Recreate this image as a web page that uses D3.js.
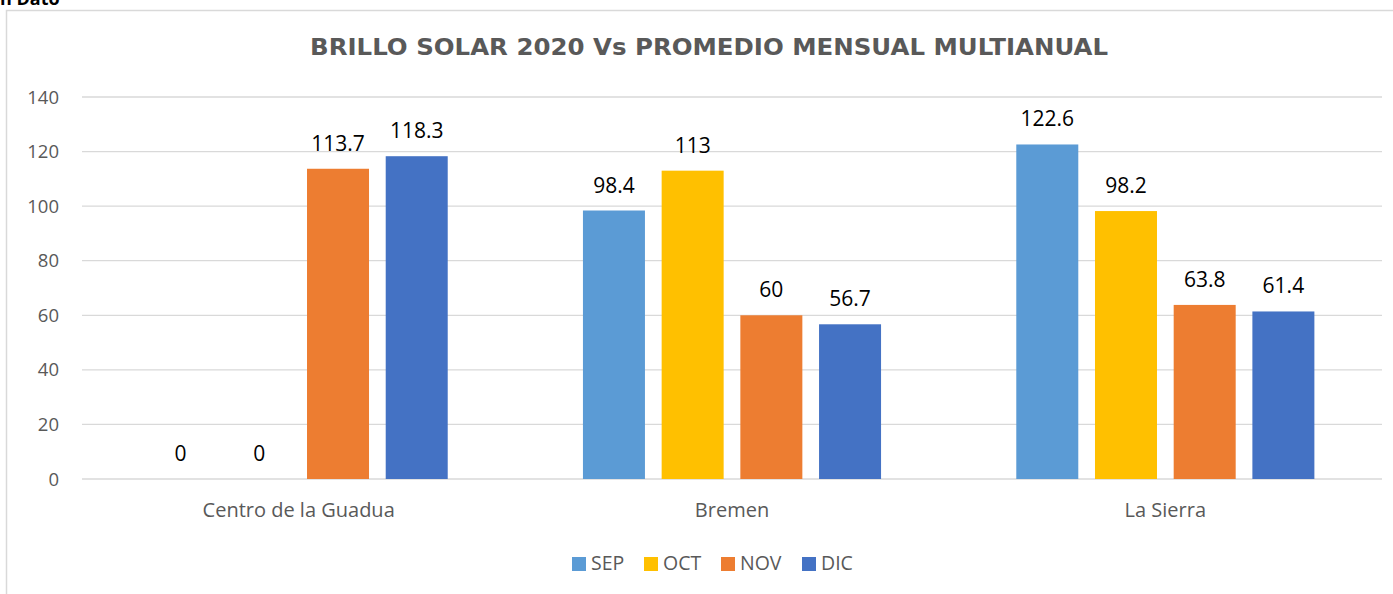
<!DOCTYPE html>
<html><head><meta charset="utf-8">
<script src="https://cdn.jsdelivr.net/npm/d3@7"></script>
<style>body{margin:0;background:#fff}svg{display:block}</style>
</head><body><svg id="c" width="1393" height="594"></svg>
<script>
const categories = ["Centro de la Guadua", "Bremen", "La Sierra"];
const seriesNames = ["SEP", "OCT", "NOV", "DIC"];
const SEP = [0, 98.4, 122.6];
const OCT = [0, 113, 98.2];
const NOV = [113.7, 60, 63.8];
const DIC = [118.3, 56.7, 61.4];
const yTicks = [0, 20, 40, 60, 80, 100, 120, 140];
const colors = ["#5B9BD5", "#FFC000", "#ED7D31", "#4472C4"];
const seriesValues = [SEP, OCT, NOV, DIC];

(function () {
const font = "'Open Sans', 'Noto Sans', sans-serif";
const svg = d3.select("#c");
const pLeft = 82, pRight = 1382, pTop = 97, pBottom = 479;

svg.append("text").attr("x", 0).attr("y", 5).attr("font-family", font)
  .attr("font-size", 18).attr("font-weight", "bold").attr("fill", "#000").text("n Dato");
svg.append("path").attr("d", `M6.5,594V10.5H1393`).attr("fill", "none")
  .attr("stroke", "#d9d9d9").attr("stroke-width", 1.5);

const x0 = d3.scaleBand().domain(categories).range([pLeft, pRight]);
const y = d3.scaleLinear().domain([0, 140]).range([pBottom, pTop]);

const bw = 62, step = 78.7;
const x1 = d3.scaleBand().domain(seriesNames).range([-2 * step, 2 * step]);

// grid
svg.append("g").selectAll("line").data(yTicks).join("line")
  .attr("x1", pLeft).attr("x2", pRight).attr("y1", d => y(d)).attr("y2", d => y(d))
  .attr("stroke", "#d9d9d9").attr("stroke-width", 1.3);
svg.append("g").selectAll("text").data(yTicks).join("text")
  .attr("x", 59).attr("y", d => y(d) + 6.5).attr("text-anchor", "end")
  .attr("font-family", font).attr("font-size", 18.5).attr("fill", "#595959").text(d => d);

svg.append("text").attr("x", 709).attr("y", 55).attr("text-anchor", "middle")
  .attr("font-family", "'DejaVu Sans', Verdana, sans-serif").attr("font-size", 22.5).attr("font-weight", "bold")
  .attr("textLength", 798).attr("lengthAdjust", "spacingAndGlyphs")
  .attr("fill", "#595959").text("BRILLO SOLAR 2020 Vs PROMEDIO MENSUAL MULTIANUAL");

const groups = svg.append("g").selectAll("g").data(categories).join("g")
  .attr("transform", c => `translate(${x0(c) + x0.bandwidth() / 2},0)`);

seriesNames.forEach((s, si) => {
  const cx = x1(s) + x1.bandwidth() / 2;
  groups.append("rect")
    .attr("x", cx - bw / 2).attr("width", bw)
    .attr("y", (c, ci) => y(seriesValues[si][ci]))
    .attr("height", (c, ci) => pBottom - y(seriesValues[si][ci]))
    .attr("fill", colors[si]);
  groups.append("text")
    .attr("x", cx).attr("y", (c, ci) => y(seriesValues[si][ci]) - 18)
    .attr("text-anchor", "middle").attr("font-family", font).attr("font-size", 21)
    .attr("fill", "#000").text((c, ci) => seriesValues[si][ci]);
});

svg.append("g").selectAll("text").data(categories).join("text")
  .attr("x", c => x0(c) + x0.bandwidth() / 2).attr("y", 517).attr("text-anchor", "middle")
  .attr("font-family", font).attr("font-size", 20).attr("fill", "#595959").text(c => c);

// legend
const legX = [572, 644, 721, 802];
const leg = svg.append("g").selectAll("g").data(seriesNames).join("g")
  .attr("transform", (d, i) => `translate(${legX[i]},557)`);
leg.append("rect").attr("width", 14).attr("height", 14).attr("fill", (d, i) => colors[i]);
leg.append("text").attr("x", 19).attr("y", 13).attr("font-family", font).attr("font-size", 19.5)
  .attr("fill", "#595959").text(d => d);
})();
</script></body></html>
